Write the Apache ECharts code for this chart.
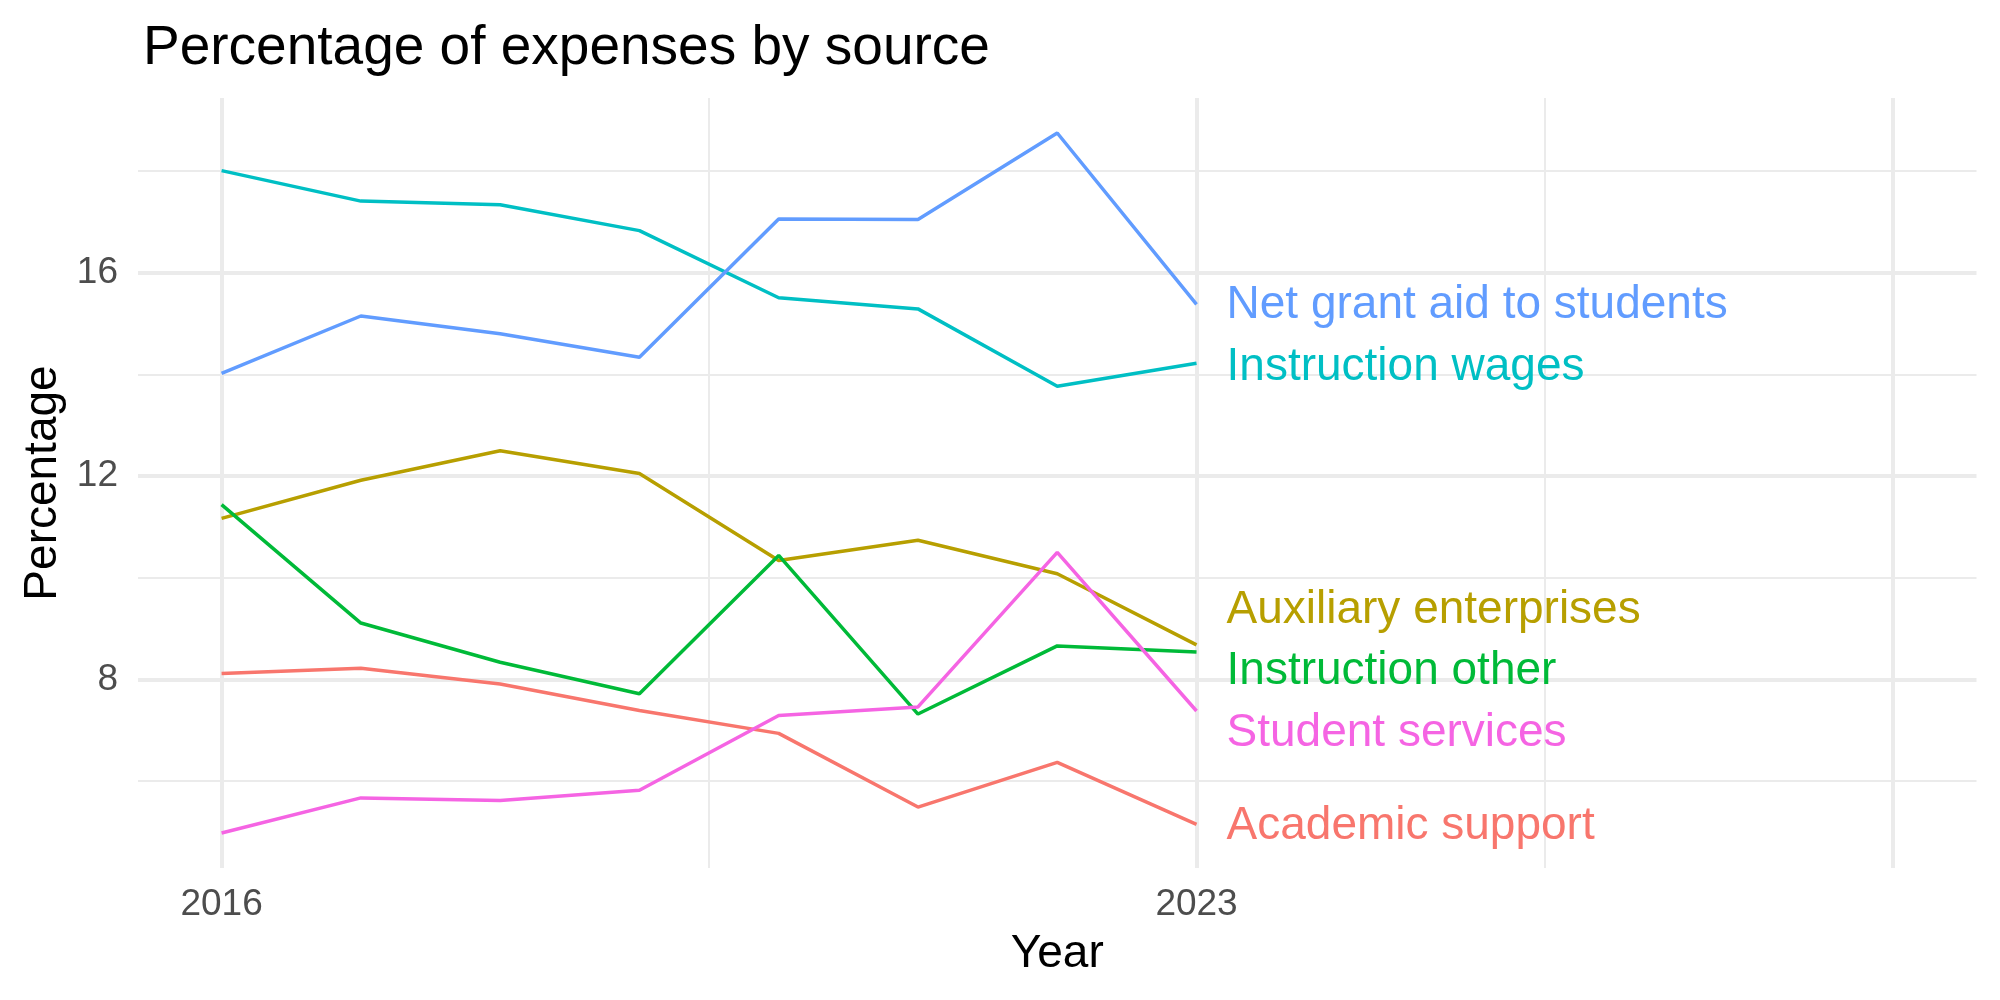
<!DOCTYPE html>
<html>
<head>
<meta charset="utf-8">
<script src="https://cdn.jsdelivr.net/npm/echarts@6/dist/echarts.min.js"></script>
<style>
html,body{margin:0;padding:0;background:#fff;}
#chart{width:2000px;height:1000px;}
</style>
</head>
<body>
<div id="chart"></div>
<script>
// ---- data ----
const years = [2016, 2017, 2018, 2019, 2020, 2021, 2022, 2023];
const seriesNames = ["Academic support", "Auxiliary enterprises", "Instruction other", "Instruction wages", "Net grant aid to students", "Student services"];
const academicSupport      = [8.12, 8.22, 7.91, 7.39, 6.94, 5.49, 6.37, 5.15];
const auxiliaryEnterprises = [11.17, 11.92, 12.50, 12.05, 10.34, 10.74, 10.08, 8.68];
const instructionOther     = [11.44, 9.11, 8.34, 7.72, 10.44, 7.32, 8.66, 8.54];
const instructionWages     = [18.01, 17.41, 17.34, 16.83, 15.51, 15.29, 13.77, 14.22];
const netGrantAid          = [14.02, 15.15, 14.80, 14.34, 17.06, 17.05, 18.75, 15.38];
const studentServices      = [4.98, 5.67, 5.62, 5.82, 7.29, 7.46, 10.50, 7.38];
// repelled label positions (value units), same order as seriesNames
const labelValues = [5.11, 9.37, 8.16, 14.15, 15.37, 6.94];
const xMajorBreaks = [2016, 2023, 2028];
const xMinorBreaks = [2019.5, 2025.5];
const xTickLabels = [2016, 2023];
const yMajorBreaks = [8, 12, 16];
const yMinorBreaks = [6, 10, 14, 18];
const yTickLabels = [8, 12, 16];

// ---- styling ----
const colors = ["#F8766D", "#B79F00", "#00BA38", "#00BFC4", "#619CFF", "#F564E3"];
const values = [academicSupport, auxiliaryEnterprises, instructionOther, instructionWages, netGrantAid, studentServices];
const FONT = "Liberation Sans, Arial, Helvetica, sans-serif";

const allVals = [].concat(...values);
const yLo = Math.min(...allVals), yHi = Math.max(...allVals);
const yPad = (yHi - yLo) * 0.05;
const xLo = 2016, xHi = 2028, xPad = (xHi - xLo) * 0.05;

const gridData = [];
xMajorBreaks.forEach(v => gridData.push({xAxis: v, lineStyle: {color: "#EBEBEB", width: 4, type: "solid"}}));
xMinorBreaks.forEach(v => gridData.push({xAxis: v, lineStyle: {color: "#EBEBEB", width: 2, type: "solid"}}));
yMajorBreaks.forEach(v => gridData.push({yAxis: v, lineStyle: {color: "#EBEBEB", width: 4, type: "solid"}}));
yMinorBreaks.forEach(v => gridData.push({yAxis: v, lineStyle: {color: "#EBEBEB", width: 2, type: "solid"}}));

const series = [{
  type: "line",
  data: [],
  silent: true,
  zlevel: 0,
  z: 0,
  markLine: {
    silent: true,
    symbol: ["none", "none"],
    label: {show: false},
    emphasis: {disabled: true},
    animation: false,
    data: gridData
  }
}];

seriesNames.forEach((name, i) => {
  series.push({
    name: name,
    type: "line",
    zlevel: 1,
    z: 3,
    showSymbol: false,
    symbol: "none",
    lineStyle: {color: colors[i], width: 3.5, opacity: 1},
    emphasis: {disabled: true},
    data: years.map((y, j) => [y, values[i][j]])
  });
  series.push({
    name: name + " label",
    type: "scatter",
    zlevel: 1,
    z: 4,
    symbolSize: 0,
    silent: true,
    itemStyle: {opacity: 1, color: colors[i]},
    emphasis: {disabled: true},
    data: [[years[years.length - 1], labelValues[i]]],
    label: {
      show: true,
      position: "right",
      distance: 30,
      formatter: name,
      color: colors[i],
      opacity: 1,
      fontSize: 46,
      fontFamily: FONT
    }
  });
});

const chart = echarts.init(document.getElementById("chart"), null, {renderer: "canvas"});
chart.setOption({
  animation: false,
  backgroundColor: "#ffffff",
  title: {
    text: "Percentage of expenses by source",
    left: 138,
    top: 16,
    textStyle: {fontFamily: FONT, fontSize: 55, fontWeight: "normal", color: "#000000"}
  },
  grid: {left: 138, right: 23.5, top: 98, bottom: 132, containLabel: false},
  xAxis: {
    type: "value",
    min: xLo - xPad,
    max: xHi + xPad,
    name: "Year",
    nameLocation: "middle",
    nameGap: 63,
    nameTextStyle: {fontFamily: FONT, fontSize: 46, color: "#000000"},
    axisLine: {show: false},
    axisTick: {show: false},
    splitLine: {show: false},
    axisLabel: {
      customValues: xTickLabels,
      formatter: v => String(v),
      margin: 18,
      fontFamily: FONT, fontSize: 37, color: "#4D4D4D"
    }
  },
  yAxis: {
    type: "value",
    min: yLo - yPad,
    max: yHi + yPad,
    name: "Percentage",
    nameLocation: "middle",
    nameRotate: 90,
    nameGap: 70,
    nameTextStyle: {fontFamily: FONT, fontSize: 46, color: "#000000"},
    axisLine: {show: false},
    axisTick: {show: false},
    splitLine: {show: false},
    axisLabel: {
      customValues: yTickLabels,
      formatter: v => String(v),
      margin: 20,
      fontFamily: FONT, fontSize: 37, color: "#4D4D4D"
    }
  },
  series: series
});
</script>
</body>
</html>
